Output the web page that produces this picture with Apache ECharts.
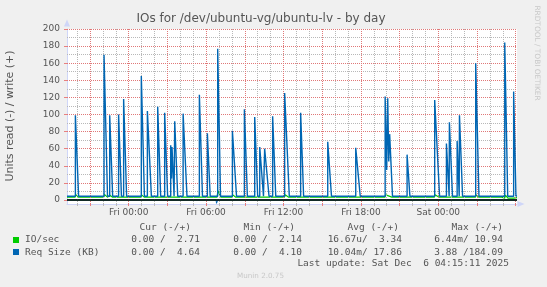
<!DOCTYPE html>
<html><head><meta charset="utf-8">
<script src="https://cdn.jsdelivr.net/npm/echarts@6/dist/echarts.min.js"></script>
<style>html,body{margin:0;padding:0;background:#f0f0f0}#c{width:547px;height:287px}</style>
</head><body><div id="c"></div><script>
// ---- data (x in hours relative to Fri 00:00) ----
const xStart = -4.78, xEnd = 30.1;
const yMin = -4.7, yMax = 200;
const xLabelHours = [0, 6, 12, 18, 24];
const xLabels = ['Fri 00:00', 'Fri 06:00', 'Fri 12:00', 'Fri 18:00', 'Sat 00:00'];
const yLabelValues = [0, 20, 40, 60, 80, 100, 120, 140, 160, 180, 200];

const ioRead = [[-4.78, 0], [30.1, 0]];
const ioWrite = [
  [-4.78,3.3],[-4.15,3.3],[-4.1,6.2],[-3.9,3.3],
  [-1.93,3.3],[-1.88,6.5],[-1.65,3.3],
  [-1.5,3.3],[-1.45,5.5],[-1.25,3.3],
  [0.95,3.3],[1.0,6.0],[1.2,3.3],
  [1.45,3.3],[1.5,5.5],[1.75,3.3],
  [4.2,3.3],[4.25,5.5],[4.5,3.3],
  [6.85,3.3],[6.92,10.94],[7.15,3.3],
  [8.02,3.3],[8.07,6],[8.3,3.3],
  [8.95,3.3],[9.0,5.5],[9.2,3.3],
  [10.15,3.3],[10.2,5.5],[10.45,3.3],
  [12.08,3.3],[12.13,6],[12.4,3.3],
  [15.42,3.3],[15.47,5.5],[15.7,3.3],
  [17.6,3.3],[17.65,5.5],[17.9,3.3],
  [19.87,3.3],[19.92,6],[20.4,3.3],
  [23.7,3.3],[23.75,6],[24.05,3.3],
  [25.45,3.3],[25.5,5.5],[25.85,3.3],
  [26.88,3.3],[26.93,6],[27.15,3.3],
  [28.9,3.3],[28.95,2.2],[29.15,2.2],[29.2,5.5],[29.4,2.2],[29.85,2.2],[29.9,3.5],[30.0,2.71],[30.1,2.71]
];
const reqRead = [[-4.78,0],[6.78,0],[6.81,-3.88],[6.9,0],[30.1,0]];
const reqWrite = [
  [-4.78,4.3],[-4.13,4.3],[-4.13,99],[-3.88,4.4],
  [-1.91,4.4],[-1.91,170],[-1.64,4.4],
  [-1.47,4.4],[-1.47,99],[-1.24,4.4],
  [-0.78,4.4],[-0.78,100],[-0.56,4.4],
  [-0.39,4.4],[-0.39,118],[-0.16,4.4],
  [0.98,4.4],[0.98,145],[1.22,4.4],
  [1.45,4.4],[1.45,104],[1.53,102],[1.76,4.4],
  [2.25,4.4],[2.25,109],[2.48,4.4],
  [2.79,4.4],[2.79,102],[3.02,4.4],
  [3.26,4.4],[3.26,64],[3.32,25],[3.36,62],[3.52,4.4],
  [3.57,4.4],[3.57,92],[3.8,4.4],
  [4.22,4.4],[4.22,101],[4.29,102],[4.52,4.4],
  [5.48,4.4],[5.48,123],[5.72,4.4],
  [6.10,4.4],[6.10,78],[6.32,4.4],
  [6.90,4.4],[6.90,177],[7.12,4.4],
  [8.04,4.4],[8.04,81],[8.12,80],[8.36,4.4],
  [8.97,4.4],[8.97,106],[9.2,4.4],
  [9.77,4.4],[9.77,97],[10.0,4.4],
  [10.16,4.4],[10.16,62],[10.23,60],[10.45,4.4],
  [10.54,4.4],[10.54,60],[10.65,59],[10.88,4.4],
  [11.16,4.4],[11.16,98],[11.4,4.4],
  [12.09,4.4],[12.09,125],[12.2,124],[12.45,4.4],
  [13.33,4.4],[13.33,102],[13.56,4.4],
  [15.43,4.4],[15.43,68],[15.5,67],[15.72,4.4],
  [17.6,4.4],[17.6,61],[17.71,60],[17.95,4.4],
  [19.88,4.4],[19.88,121],[20.0,35],[20.08,119],[20.16,45],[20.23,77],[20.45,4.4],
  [21.58,4.4],[21.58,53],[21.8,4.4],
  [23.72,4.4],[23.72,117],[23.85,116],[24.1,4.4],
  [24.63,4.4],[24.63,66],[24.84,4.4],
  [24.86,4.4],[24.86,91],[25.1,4.4],
  [25.46,4.4],[25.46,69],[25.62,4.4],
  [25.64,4.4],[25.64,99],[25.88,4.4],
  [26.9,4.4],[26.9,160],[27.15,4.4],
  [29.15,4.4],[29.15,184.09],[29.38,4.4],
  [29.84,4.4],[29.84,127],[30.02,4.64],[30.1,4.64]
];

const legendHeader = ['Cur (-/+)', 'Min (-/+)', 'Avg (-/+)', 'Max (-/+)'];
const ioLegend = ['0.00 /  2.71', '0.00 /  2.14', '16.67u/  3.34', '6.44m/ 10.94'];
const reqLegend = ['0.00 /  4.64', '0.00 /  4.10', '10.04m/ 17.86', '3.88 /184.09'];
const seriesNames = ['IO/sec', 'Req Size (KB)'];
const lastUpdate = 'Last update: Sat Dec  6 04:15:11 2025';

// ---- styling ----
const GREEN = '#00cc00', BLUE = '#0066b3';
const AXIS = '#cfd6f8';
const MAJOR = '#e07878', MINOR = '#b8b8b8';
const FONT = 'DejaVu Sans', MONO = 'DejaVu Sans Mono';
const TXT = '#555555';

const majorX = [], minorX = [];
for (let h = Math.ceil(xStart); h <= Math.floor(xEnd); h++) {
  if (h % 3 === 0) majorX.push(h); else minorX.push(h);
}
const majorY = yLabelValues.slice(1), minorY = [];
for (let v = 10; v < yMax; v += 20) minorY.push(v);

const gridLines = [];
minorX.forEach(h => gridLines.push({xAxis: h, lineStyle: {color: MINOR, type: [1, 1], width: 1}}));
minorY.forEach(v => gridLines.push({yAxis: v, lineStyle: {color: MINOR, type: [1, 1], width: 1}}));
majorX.forEach(h => gridLines.push({xAxis: h, lineStyle: {color: MAJOR, type: [1, 1], width: 1}}));
majorY.forEach(v => gridLines.push({yAxis: v, lineStyle: {color: MAJOR, type: [1, 1], width: 1}}));

const colX = [200, 302, 402, 503];
const hdrX = [191, 295, 399, 503];
const graphics = [
  {type: 'text', x: 261, y: 19, style: {text: 'IOs for /dev/ubuntu-vg/ubuntu-lv - by day', font: '12px ' + FONT, fill: TXT, align: 'center', verticalAlign: 'middle'}},
  {type: 'text', x: 10, y: 116, rotation: Math.PI / 2, style: {text: 'Units read (-) / write (+)', font: '10.9px ' + FONT, fill: TXT, align: 'center', verticalAlign: 'middle'}},
  {type: 'text', x: 537, y: 53, rotation: -Math.PI / 2, style: {text: 'RRDTOOL / TOBI OETIKER', font: '7.4px ' + FONT, fill: '#c8c8c8', align: 'center', verticalAlign: 'middle'}},
  {type: 'rect', shape: {x: 13, y: 237, width: 6, height: 6}, style: {fill: GREEN}},
  {type: 'rect', shape: {x: 13, y: 249, width: 6, height: 6}, style: {fill: BLUE}},
  {type: 'text', x: 25, y: 240, style: {text: seriesNames[0], font: '9.5px ' + MONO, fill: TXT, verticalAlign: 'middle'}},
  {type: 'text', x: 25, y: 252.3, style: {text: seriesNames[1], font: '9.5px ' + MONO, fill: TXT, verticalAlign: 'middle'}},
  {type: 'text', x: 509, y: 263.7, style: {text: lastUpdate, font: '9.5px ' + MONO, fill: TXT, align: 'right', verticalAlign: 'middle'}},
  {type: 'text', x: 260.5, y: 276, style: {text: 'Munin 2.0.75', font: '7.2px ' + FONT, fill: '#c8c8c8', align: 'center', verticalAlign: 'middle'}}
];
legendHeader.forEach((t, i) => graphics.push({type: 'text', x: hdrX[i], y: 227.3, style: {text: t, font: '9.5px ' + MONO, fill: TXT, align: 'right', verticalAlign: 'middle'}}));
ioLegend.forEach((t, i) => graphics.push({type: 'text', x: colX[i], y: 240, style: {text: t, font: '9.5px ' + MONO, fill: TXT, align: 'right', verticalAlign: 'middle'}}));
reqLegend.forEach((t, i) => graphics.push({type: 'text', x: colX[i], y: 252.3, style: {text: t, font: '9.5px ' + MONO, fill: TXT, align: 'right', verticalAlign: 'middle'}}));

const chart = echarts.init(document.getElementById('c'), null, {renderer: 'canvas'});
chart.setOption({
  animation: false,
  backgroundColor: '#f0f0f0',
  grid: {left: 67, right: 30, top: 29, bottom: 83, show: true, backgroundColor: '#ffffff', borderWidth: 0},
  xAxis: [{
    type: 'value', min: xStart, max: xEnd,
    axisLine: {show: true, onZero: false, lineStyle: {color: AXIS, width: 1}, symbol: ['none', 'triangle'], symbolSize: [6, 7], symbolOffset: [0, 4]},
    axisTick: {show: true, customValues: minorX, length: 2, lineStyle: {color: '#bbbbbb'}},
    axisLabel: {customValues: xLabelHours, formatter: v => xLabels[xLabelHours.indexOf(Math.round(v))] || '', color: TXT, fontSize: 9, fontFamily: FONT, margin: 4},
    splitLine: {show: false}
  }, {
    type: 'value', min: xStart, max: xEnd, position: 'bottom',
    axisLine: {show: false, onZero: false},
    axisTick: {show: true, customValues: majorX, length: 2, lineStyle: {color: '#e88080'}},
    axisLabel: {show: false},
    splitLine: {show: false}
  }],
  yAxis: {
    type: 'value', min: yMin, max: yMax,
    axisLine: {show: true, onZero: false, lineStyle: {color: AXIS, width: 1}, symbol: ['none', 'triangle'], symbolSize: [6, 7], symbolOffset: [0, 6]},
    axisTick: {show: true, customValues: yLabelValues, length: 3, lineStyle: {color: '#e88080'}},
    axisLabel: {customValues: yLabelValues, color: TXT, fontSize: 9, fontFamily: FONT, margin: 7},
    splitLine: {show: false}
  },
  graphic: graphics,
  series: [
    {type: 'line', data: [[xStart, yMin]], z: 1, silent: true, showSymbol: false, lineStyle: {width: 0, opacity: 0},
      markLine: {silent: true, symbol: ['none', 'none'], label: {show: false}, animation: false, data: gridLines}},
    {type: 'line', name: 'io read', data: ioRead, z: 3, showSymbol: false, lineStyle: {color: GREEN, width: 1}},
    {type: 'line', name: 'req read', data: reqRead, z: 3, showSymbol: false, lineStyle: {color: BLUE, width: 1}},
    {type: 'line', name: 'io write', data: ioWrite, z: 4, showSymbol: false, lineStyle: {color: GREEN, width: 1.2}},
    {type: 'line', name: 'req write', data: reqWrite, z: 5, showSymbol: false, lineStyle: {color: BLUE, width: 1.4}},
    {type: 'line', data: [[xStart, yMin]], z: 6, silent: true, showSymbol: false, lineStyle: {width: 0, opacity: 0},
      markLine: {silent: true, symbol: ['none', 'none'], label: {show: false}, animation: false,
        data: [{yAxis: 0, lineStyle: {color: '#000000', type: 'solid', width: 1.5}}]}}
  ]
});
</script></body></html>
